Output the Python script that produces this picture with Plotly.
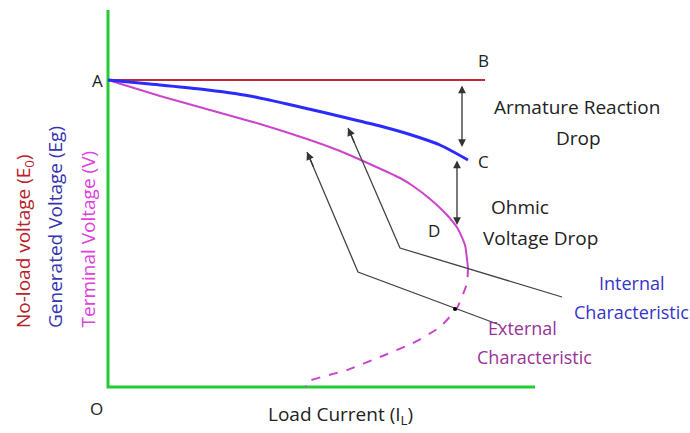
import plotly.graph_objects as go

# Canvas coordinates of the drawing (x to the right, y downward like the picture)
axis_x = [108, 108, 535]
axis_y = [10, 387, 387]

# no-load voltage line A-B
noload_x = [108, 485]
noload_y = [80, 80]

# internal characteristic (generated voltage)
internal_x = [108, 150, 200, 250, 300, 347, 380, 410, 440, 468]
internal_y = [80, 84, 89, 96, 107, 118, 126, 134.5, 145, 160]

# external characteristic (terminal voltage), solid part and dashed part
external_x = [108, 160, 210, 260, 307, 340, 363, 400, 413, 430, 447, 458, 465, 468]
external_y = [80, 96, 110, 124, 139, 151, 161, 178, 186, 199, 215, 229, 245, 268]
external_dash_x = [468, 467, 457, 440, 413, 380, 347, 307, 306]
external_dash_y = [268, 283, 308, 327, 343, 357, 370, 382, 387]

# pointer lines to the labels
pointer1_x = [348, 400, 562]
pointer1_y = [128, 248, 297]
pointer2_x = [307, 358, 500]
pointer2_y = [152, 272, 325]

fig = go.Figure()

fig.add_trace(go.Scatter(x=axis_x, y=axis_y, mode="lines",
                         line=dict(color="#22cc33", width=3)))
fig.add_trace(go.Scatter(x=noload_x, y=noload_y, mode="lines",
                         line=dict(color="#c0283a", width=2)))
fig.add_trace(go.Scatter(x=external_x, y=external_y, mode="lines",
                         line=dict(color="#cc44cc", width=2, shape="spline", smoothing=0.5)))
fig.add_trace(go.Scatter(x=external_dash_x, y=external_dash_y, mode="lines",
                         line=dict(color="#cc44cc", width=2, dash="dash",
                                   shape="spline", smoothing=0.5)))
fig.add_trace(go.Scatter(x=internal_x, y=internal_y, mode="lines",
                         line=dict(color="#2b2bff", width=3, shape="spline", smoothing=0.7)))
fig.add_trace(go.Scatter(x=pointer1_x, y=pointer1_y, mode="lines",
                         line=dict(color="#444444", width=1.3)))
fig.add_trace(go.Scatter(x=pointer2_x, y=pointer2_y, mode="lines",
                         line=dict(color="#444444", width=1.3)))
fig.add_trace(go.Scatter(x=[455], y=[309], mode="markers",
                         marker=dict(color="black", size=4)))

font = "Open Sans"


def arrow(x0, y0, x1, y1, both=False):
    fig.add_annotation(x=x1, y=y1, ax=x0, ay=y0, xref="x", yref="y",
                       axref="x", ayref="y", showarrow=True, text="",
                       arrowhead=2, arrowsize=1.2, arrowwidth=1.3,
                       arrowcolor="#333333",
                       arrowside="end+start" if both else "end")


# double arrows for the drops
arrow(462, 84, 462, 147, both=True)
arrow(457, 159, 457, 225, both=True)
# pointer heads
arrow(355, 144, 348, 128)
arrow(314, 168, 307, 152)


def label(x, y, text, color="#222222", size=19, **kw):
    fig.add_annotation(x=x, y=y, xref="x", yref="y", text=text, showarrow=False,
                       font=dict(family=font, size=size, color=color), **kw)


label(97, 80, "A", size=17)
label(483, 60, "B", size=17)
label(483, 161, "C", size=17)
label(434, 230, "D", size=17)
label(96, 408, "O", size=17)
label(577, 107, "Armature Reaction")
label(578, 138, "Drop")
label(520, 207, "Ohmic")
label(540, 238, "Voltage Drop")
label(632, 283, "Internal", color="#3535c8", size=18)
label(631, 312, "Characteristic", color="#3535c8", size=18)
label(522, 328, "External", color="#993399", size=18)
label(534, 357, "Characteristic", color="#993399", size=18)
label(340, 415, "Load Current (I<sub>L</sub>)")

label(24, 330, "No-load voltage (E<sub>0</sub>)", color="#b8202a",
      textangle=-90, yanchor="bottom")
label(55, 330, "Generated Voltage (Eg)", color="#3535b0",
      textangle=-90, yanchor="bottom")
label(87, 330, "Terminal Voltage (V)", color="#e040e0",
      textangle=-90, yanchor="bottom")

fig.update_layout(
    width=690, height=433,
    margin=dict(l=0, r=0, t=0, b=0),
    paper_bgcolor="white", plot_bgcolor="white",
    showlegend=False,
    xaxis=dict(range=[0, 690], visible=False),
    yaxis=dict(range=[433, 0], visible=False),
)

fig.write_html("out.html", config={"displayModeBar": False},
               post_script="document.body.style.margin='0px';")
